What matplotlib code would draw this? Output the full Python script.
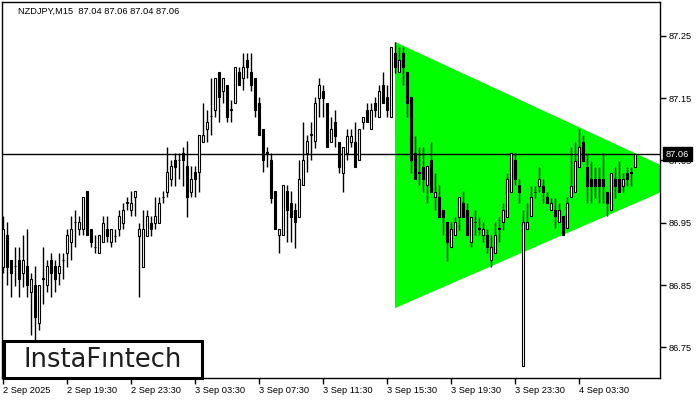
"""
NZDJPY M15 chart with a bullish symmetrical triangle (MT4 style).
Writes out.png, 700x400.
"""

import numpy as np
import matplotlib
matplotlib.use('Agg')
import matplotlib.pyplot as plt
from matplotlib.patches import Polygon, Rectangle


# ─────────────────────────────────────────────────────────────────────────────
# Candles (one per 15 min)

opens = [
    86.879, 86.930, 86.890, 86.880, 86.890, 86.869, 86.880, 86.839, 86.850, 86.789,
    86.860, 86.850, 86.890, 86.880, 86.869, 86.890, 86.901, 86.919, 86.951, 86.940,
    86.940, 87.001, 86.940, 86.911, 86.901, 86.919, 86.940, 86.919, 86.928, 86.940,
    86.950, 86.982, 86.970, 86.991, 86.928, 86.879, 86.928, 86.950, 86.950, 86.950,
    86.991, 86.999, 87.020, 87.050, 87.050, 87.062, 87.041, 86.999, 87.031, 87.031,
    87.079, 87.100, 87.121, 87.131, 87.192, 87.161, 87.171, 87.131, 87.142, 87.192,
    87.182, 87.211, 87.192, 87.182, 87.142, 87.100, 87.062, 87.050, 87.001, 86.930,
    86.930, 87.001, 86.982, 86.970, 86.959, 87.010, 87.062, 87.091, 87.081, 87.150,
    87.161, 87.142, 87.079, 87.111, 87.079, 87.030, 87.062, 87.079, 87.079, 87.050,
    87.111, 87.131, 87.100, 87.142, 87.119, 87.171, 87.151, 87.119, 87.222, 87.192,
    87.222, 87.192, 87.151, 87.062, 87.030, 87.039, 87.010, 87.050, 86.991, 86.991,
    86.970, 86.951, 86.911, 86.930, 86.959, 86.982, 86.970, 86.919, 86.951, 86.940,
    86.930, 86.930, 86.890, 86.901, 86.940, 86.951, 86.959, 86.999, 87.050, 87.010,
    86.720, 86.940, 86.961, 86.999, 87.009, 87.009, 86.991, 86.970, 86.970, 86.951,
    86.961, 86.942, 86.991, 86.999, 87.039, 87.079, 87.039, 87.020, 87.020, 87.020,
    87.020, 86.999, 86.970, 87.020, 87.020, 87.009, 87.030, 87.030, 87.040,
]
highs = [
    86.961, 86.951, 86.890, 86.911, 86.911, 86.930, 86.940, 86.869, 86.880, 86.850,
    86.911, 86.890, 86.901, 86.890, 86.901, 86.901, 86.940, 86.961, 86.970, 86.961,
    86.991, 87.001, 86.940, 86.930, 86.930, 86.961, 86.961, 86.940, 86.940, 86.970,
    86.982, 86.991, 87.001, 87.001, 86.950, 86.970, 86.970, 86.961, 86.991, 86.991,
    87.001, 87.071, 87.050, 87.062, 87.062, 87.071, 87.081, 87.041, 87.041, 87.091,
    87.142, 87.131, 87.182, 87.182, 87.192, 87.182, 87.171, 87.147, 87.200, 87.200,
    87.222, 87.222, 87.222, 87.182, 87.151, 87.100, 87.071, 87.062, 87.001, 86.940,
    87.010, 87.010, 87.001, 86.982, 87.050, 87.111, 87.091, 87.111, 87.151, 87.182,
    87.171, 87.142, 87.119, 87.131, 87.079, 87.071, 87.100, 87.100, 87.111, 87.100,
    87.119, 87.142, 87.142, 87.151, 87.171, 87.192, 87.171, 87.232, 87.240, 87.232,
    87.232, 87.192, 87.151, 87.089, 87.071, 87.071, 87.041, 87.079, 87.030, 87.010,
    86.970, 86.951, 86.951, 86.959, 86.991, 87.001, 86.982, 86.959, 86.970, 86.959,
    86.951, 86.940, 86.930, 86.951, 86.959, 86.982, 87.030, 87.062, 87.062, 87.020,
    86.970, 86.982, 87.009, 87.009, 87.039, 87.020, 86.999, 86.990, 86.990, 86.982,
    86.961, 86.991, 87.071, 87.079, 87.100, 87.091, 87.060, 87.049, 87.039, 87.039,
    87.062, 86.999, 87.030, 87.039, 87.049, 87.030, 87.039, 87.039, 87.060,
]
lows = [
    86.869, 86.850, 86.831, 86.849, 86.831, 86.847, 86.831, 86.770, 86.762, 86.778,
    86.820, 86.839, 86.831, 86.839, 86.850, 86.860, 86.879, 86.890, 86.911, 86.930,
    86.930, 86.930, 86.911, 86.901, 86.901, 86.919, 86.919, 86.911, 86.919, 86.928,
    86.940, 86.970, 86.961, 86.961, 86.831, 86.879, 86.928, 86.928, 86.940, 86.950,
    86.982, 86.991, 87.009, 87.009, 87.020, 87.009, 86.959, 86.991, 86.991, 86.999,
    87.079, 87.079, 87.091, 87.119, 87.111, 87.142, 87.111, 87.111, 87.142, 87.171,
    87.163, 87.182, 87.161, 87.119, 87.091, 87.031, 87.039, 86.982, 86.940, 86.901,
    86.930, 86.919, 86.919, 86.909, 86.959, 87.010, 87.031, 87.050, 87.070, 87.119,
    87.119, 87.071, 87.079, 87.071, 87.030, 86.999, 87.050, 87.071, 87.039, 87.050,
    87.100, 87.111, 87.100, 87.119, 87.119, 87.142, 87.119, 87.119, 87.190, 87.192,
    87.171, 87.119, 87.030, 87.020, 87.010, 86.999, 86.982, 86.999, 86.970, 86.959,
    86.930, 86.888, 86.911, 86.930, 86.938, 86.959, 86.930, 86.911, 86.930, 86.930,
    86.919, 86.901, 86.879, 86.901, 86.919, 86.938, 86.959, 86.999, 87.010, 86.982,
    86.720, 86.940, 86.961, 86.990, 86.999, 86.982, 86.982, 86.970, 86.942, 86.951,
    86.930, 86.942, 86.991, 86.999, 87.039, 87.049, 86.982, 86.982, 86.990, 86.982,
    86.982, 86.961, 86.970, 86.990, 86.999, 86.999, 87.009, 87.009, 87.040,
]
closes = [
    86.940, 86.879, 86.869, 86.880, 86.860, 86.890, 86.850, 86.860, 86.799, 86.850,
    86.860, 86.880, 86.869, 86.860, 86.880, 86.890, 86.930, 86.940, 86.951, 86.951,
    86.991, 86.930, 86.919, 86.911, 86.930, 86.950, 86.928, 86.940, 86.928, 86.961,
    86.970, 86.982, 86.982, 87.001, 86.940, 86.940, 86.961, 86.940, 86.961, 86.982,
    86.991, 87.031, 87.041, 87.039, 87.050, 87.050, 86.991, 87.020, 87.020, 87.091,
    87.091, 87.111, 87.121, 87.182, 87.151, 87.182, 87.119, 87.131, 87.200, 87.171,
    87.200, 87.200, 87.171, 87.131, 87.091, 87.050, 87.062, 86.990, 86.940, 86.940,
    87.010, 86.970, 86.959, 86.951, 87.020, 87.050, 87.081, 87.091, 87.142, 87.171,
    87.150, 87.071, 87.100, 87.089, 87.039, 87.071, 87.089, 87.089, 87.039, 87.100,
    87.119, 87.111, 87.131, 87.131, 87.161, 87.142, 87.131, 87.232, 87.200, 87.211,
    87.200, 87.142, 87.050, 87.020, 87.030, 87.020, 87.041, 86.999, 86.999, 86.959,
    86.959, 86.919, 86.940, 86.951, 86.991, 86.959, 86.930, 86.959, 86.951, 86.940,
    86.940, 86.911, 86.911, 86.930, 86.940, 86.970, 87.020, 87.062, 87.020, 86.999,
    86.951, 86.951, 86.991, 86.999, 87.020, 86.999, 86.982, 86.982, 86.961, 86.970,
    86.930, 86.982, 87.009, 87.049, 87.071, 87.049, 87.009, 87.009, 87.009, 87.009,
    87.009, 86.982, 87.030, 87.009, 86.999, 87.020, 87.020, 87.030, 87.060,
]

# Time labels: one every 16 bars (4 hours)
time_labels = ['2 Sep 2025', '2 Sep 19:30', '2 Sep 23:30', '3 Sep 03:30',
               '3 Sep 07:30', '3 Sep 11:30', '3 Sep 15:30', '3 Sep 19:30',
               '3 Sep 23:30', '4 Sep 03:30']
price_ticks = [86.75, 86.85, 86.95, 87.05, 87.15, 87.25]

# Triangle pattern: starts at bar 98, lines converge at bar 172
tri_start_bar = 98
tri_apex_bar = 172
tri_top = 87.240
tri_bottom = 86.813
tri_apex = 87.020

symbol = 'NZDJPY,M15'
last_bid = 87.06

SMALL = dict(family='Liberation Sans', size=6.7)


# ─────────────────────────────────────────────────────────────────────────────

def draw_candles(ax, o, h, l, c):
    o, h, l, c = map(np.asarray, (o, h, l, c))
    idx = np.arange(len(o))
    ax.vlines(idx, l, h, color='black', lw=1.0, zorder=3)
    bottom = np.minimum(o, c)
    height = np.maximum(np.abs(c - o), 0.0008)
    face = np.where(c >= o, 'white', 'black')
    ax.bar(idx, height, bottom=bottom, width=0.55, color=face,
           edgecolor='black', linewidth=0.8, zorder=4)


def main():
    fig = plt.figure(figsize=(7, 4), dpi=100)
    ax = fig.add_axes([2 / 700, 22 / 400, 658 / 700, 376 / 400])

    ax.set_xlim(-0.25, 164.25)
    ax.set_ylim(86.701, 87.304)

    # Green triangle behind the candles
    tri = Polygon([(tri_start_bar, tri_top), (tri_start_bar, tri_bottom),
                   (tri_apex_bar, tri_apex)], closed=True,
                  facecolor='#00ff00', edgecolor='none', zorder=1)
    ax.add_patch(tri)

    draw_candles(ax, opens, highs, lows, closes)

    # Bid line
    ax.axhline(last_bid, color='black', lw=1.0, zorder=2)

    # Axes styling, MT4 look
    for s in ax.spines.values():
        s.set_color('black')
        s.set_linewidth(1.0)
    ax.yaxis.tick_right()
    ax.set_yticks(price_ticks)
    ax.set_yticklabels([f'{p:.2f}' for p in price_ticks], fontdict=SMALL)
    ax.tick_params(axis='y', direction='out', length=4, width=1, pad=2)
    ax.set_xticks(np.arange(len(time_labels)) * 16)
    ax.set_xticklabels(time_labels, fontdict=SMALL)
    ax.tick_params(axis='x', direction='out', length=4, width=1, pad=2)
    for lab in ax.get_xticklabels():
        lab.set_ha('left')

    # Bid price tag on the scale (covers most of the 87.05 label, as in MT4)
    ax.annotate(f'{last_bid:.2f}', xy=(1.0, last_bid),
                xycoords=('axes fraction', 'data'),
                xytext=(4.2, 0), textcoords='offset points',
                ha='left', va='center', color='white', **SMALL,
                bbox=dict(boxstyle='square,pad=0.3', fc='black', ec='black'),
                annotation_clip=False, zorder=10)

    # Header
    ax.text(16 / 658, 1 - 9 / 376,
            f'{symbol}  {opens[-1]:.2f} {highs[-1]:.2f} {lows[-1]:.2f} {closes[-1]:.2f}',
            transform=ax.transAxes, va='center', ha='left',
            color='black', zorder=10, **SMALL)

    # Logo box, bottom left
    ax.add_patch(Rectangle((2 / 658, 0.0), 198 / 658, 37 / 376,
                           transform=ax.transAxes, facecolor='white',
                           edgecolor='black', linewidth=2.2, zorder=8,
                           clip_on=False))
    ax.text(101 / 658, 18 / 376, 'InstaF\u0131ntech', transform=ax.transAxes,
            fontsize=18.5, ha='center', va='center', color='#1e1e1e',
            family='DejaVu Sans', zorder=9)

    fig.savefig('out.png', dpi=100)
    plt.close(fig)


if __name__ == '__main__':
    main()
